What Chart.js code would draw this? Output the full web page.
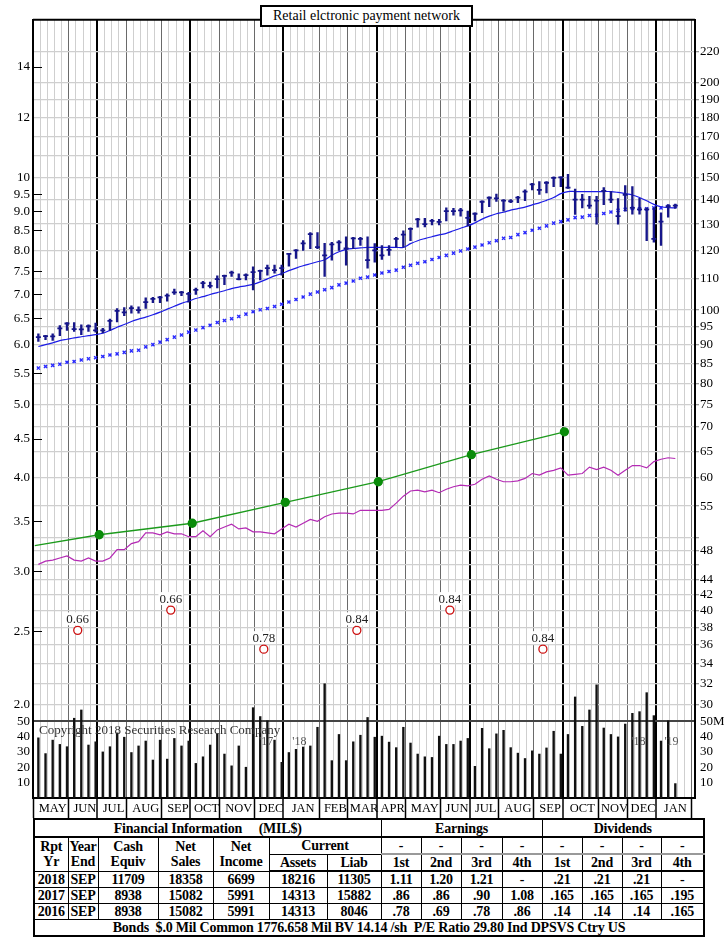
<!DOCTYPE html>
<html>
<head>
<meta charset="utf-8">
<script src="https://cdn.jsdelivr.net/npm/chart.js@4.4.1/dist/chart.umd.min.js"></script>
<style>
  body { margin: 0; background: #fff; }
  #page { position: relative; width: 724px; height: 941px; font-family: "Liberation Serif", serif; }
  #chartBox { position: absolute; left: 0; top: 0; width: 724px; height: 818px; }
  #title { position: absolute; left: 260px; top: 5px; width: 209px; height: 18px; border: 2px solid #000; background: #fff;
           font-size: 14px; line-height: 18px; text-align: center; color: #000; }
  #fin { position: absolute; left: 33px; top: 818px; width: 670px; border-collapse: collapse; table-layout: fixed;
         font: bold 14px "Liberation Serif", serif; border: 2px solid #000; color: #000; }
  #fin td { border: 1px solid #000; text-align: center; padding: 0; height: 15px; line-height: 15px; white-space: nowrap; letter-spacing: -0.2px; }
  #fin tr.top td { height: 16px; border-bottom: 2px solid #000; }
  #fin td.dash { border-bottom: 2px solid #999; }
  #fin tr.sub td { border-bottom: 2px solid #000; }
</style>
</head>
<body>
<div id="page">
  <div id="chartBox"><canvas id="myChart"></canvas></div>
  <div id="title">Retail elctronic payment network</div>
  <table id="fin">
    <colgroup>
      <col style="width:34px"><col style="width:30px"><col style="width:60px"><col style="width:55px"><col style="width:56px">
      <col style="width:58px"><col style="width:54px"><col style="width:40px"><col style="width:40px"><col style="width:41px">
      <col style="width:40px"><col style="width:40px"><col style="width:40px"><col style="width:39px"><col style="width:43px">
    </colgroup>
    <tr class="top"><td colspan="7">Financial Information &nbsp;&nbsp;&nbsp; (MIL$)</td><td colspan="4">Earnings</td><td colspan="4">Dividends</td></tr>
    <tr><td rowspan="2">Rpt<br>Yr</td><td rowspan="2">Year<br>End</td><td rowspan="2">Cash<br>Equiv</td><td rowspan="2">Net<br>Sales</td><td rowspan="2">Net<br>Income</td>
        <td colspan="2">Current</td>
        <td class="dash">-</td><td class="dash">-</td><td class="dash">-</td><td class="dash">-</td>
        <td class="dash">-</td><td class="dash">-</td><td class="dash">-</td><td class="dash">-</td></tr>
    <tr class="sub"><td>Assets</td><td>Liab</td><td>1st</td><td>2nd</td><td>3rd</td><td>4th</td><td>1st</td><td>2nd</td><td>3rd</td><td>4th</td></tr>
    <tr><td>2018</td><td>SEP</td><td>11709</td><td>18358</td><td>6699</td><td>18216</td><td>11305</td><td>1.11</td><td>1.20</td><td>1.21</td><td>-</td><td>.21</td><td>.21</td><td>.21</td><td>-</td></tr>
    <tr><td>2017</td><td>SEP</td><td>8938</td><td>15082</td><td>5991</td><td>14313</td><td>15882</td><td>.86</td><td>.86</td><td>.90</td><td>1.08</td><td>.165</td><td>.165</td><td>.165</td><td>.195</td></tr>
    <tr><td>2016</td><td>SEP</td><td>8938</td><td>15082</td><td>5991</td><td>14313</td><td>8046</td><td>.78</td><td>.69</td><td>.78</td><td>.86</td><td>.14</td><td>.14</td><td>.14</td><td>.165</td></tr>
    <tr><td colspan="15">Bonds&nbsp; $.0 Mil Common 1776.658 Mil BV 14.14 /sh&nbsp; P/E Ratio 29.80 Ind DPSVS Ctry US</td></tr>
  </table>
</div>
<script>
// weekly data, May 2017 .. Jan 2019
const priceHigh = [
	93.0, 92.6, 93.0, 95.4, 96.3, 96.3, 95.6, 95.6, 96.1, 94.6,
	97.3, 100.5, 100.8, 101.3, 101.0, 103.8, 104.0, 104.3, 105.1, 106.6,
	105.9, 105.6, 107.0, 109.2, 108.9, 111.0, 111.3, 112.7, 111.7, 111.7,
	114.1, 113.0, 114.7, 114.7, 114.7, 118.9, 120.3, 123.6, 126.7, 126.7,
	122.6, 123.0, 123.6, 125.1, 124.9, 124.9, 125.1, 122.5, 121.8, 121.8,
	124.9, 127.4, 128.5, 132.3, 132.3, 131.9, 131.9, 136.6, 136.4, 136.4,
	135.3, 134.6, 139.6, 141.3, 142.5, 140.1, 140.1, 141.5, 144.3, 147.2,
	148.0, 148.0, 150.2, 150.2, 151.3, 144.7, 142.4, 141.5, 141.5, 145.3,
	143.6, 140.5, 146.2, 145.8, 140.7, 136.6, 136.6, 134.6, 138.0, 138.2]
const priceLow = [
	90.9, 91.4, 91.2, 92.5, 94.0, 93.7, 92.8, 93.7, 93.5, 93.3,
	94.0, 96.5, 98.3, 99.1, 99.1, 100.5, 102.3, 102.3, 102.8, 104.9,
	104.5, 102.5, 104.9, 107.0, 107.0, 107.0, 108.1, 110.8, 109.7, 109.7,
	106.4, 109.7, 111.3, 111.9, 111.3, 114.4, 117.1, 120.0, 120.6, 120.6,
	110.8, 116.5, 120.0, 114.7, 120.6, 121.8, 113.7, 115.8, 116.7, 118.2,
	121.2, 121.2, 123.6, 128.8, 128.9, 129.7, 129.7, 131.3, 133.6, 133.2,
	129.3, 131.3, 134.6, 137.1, 139.3, 135.3, 138.8, 138.8, 139.7, 144.3,
	142.3, 143.0, 145.8, 145.8, 145.0, 133.9, 136.6, 136.4, 130.0, 138.0,
	138.8, 130.0, 135.3, 134.0, 134.0, 123.6, 123.0, 121.8, 132.8, 136.4]
const priceClose = [
	92.1, 92.4, 92.3, 94.6, 96.0, 94.4, 94.3, 95.2, 94.0, 94.0,
	96.8, 99.8, 99.3, 100.6, 100.0, 102.5, 103.5, 104.0, 104.5, 105.6,
	105.6, 105.1, 106.4, 108.6, 107.7, 109.9, 111.0, 112.1, 109.9, 111.3,
	112.3, 112.7, 113.7, 113.0, 113.7, 118.7, 120.0, 122.6, 126.1, 121.2,
	118.2, 122.2, 123.0, 120.7, 124.5, 124.3, 116.5, 120.0, 118.2, 120.2,
	124.3, 125.9, 128.1, 131.9, 130.0, 131.3, 130.9, 135.3, 135.3, 135.6,
	132.5, 134.2, 139.2, 140.9, 140.6, 139.7, 139.4, 141.0, 143.6, 146.8,
	144.3, 147.5, 149.7, 149.9, 145.3, 140.1, 140.1, 137.6, 139.7, 143.9,
	140.1, 133.2, 142.2, 136.6, 136.0, 136.0, 124.3, 131.0, 137.3, 137.6]
const avgShort = [
	89.5, 90.0, 90.5, 91.1, 91.5, 91.9, 92.2, 92.5, 92.8, 93.2,
	94.0, 94.9, 95.7, 96.6, 97.3, 97.9, 98.6, 99.4, 100.3, 101.2,
	102.1, 102.8, 103.6, 104.2, 104.9, 105.5, 106.1, 106.8, 107.3, 107.7,
	108.2, 109.0, 110.0, 111.0, 111.8, 112.8, 113.7, 114.5, 115.2, 115.9,
	116.6, 118.2, 119.5, 120.4, 120.7, 120.9, 121.1, 121.1, 121.1, 121.1,
	121.1, 121.1, 122.5, 123.6, 124.4, 125.1, 125.8, 126.4, 127.4, 128.4,
	129.3, 130.5, 132.0, 133.2, 134.2, 134.8, 135.7, 136.3, 136.9, 137.9,
	138.7, 139.8, 141.0, 142.7, 143.6, 143.6, 143.6, 143.6, 143.6, 143.6,
	143.6, 143.2, 142.7, 142.1, 141.0, 139.6, 138.1, 137.1, 136.7, 136.6]
const avgLong = [
	83.8, 84.2, 84.5, 84.8, 85.3, 85.5, 85.9, 86.2, 86.5, 86.8,
	87.2, 87.5, 87.9, 88.3, 88.5, 89.4, 90.0, 90.7, 91.4, 92.1,
	92.7, 93.5, 94.1, 94.8, 95.5, 96.3, 96.9, 97.4, 98.1, 98.8,
	99.5, 100.1, 100.5, 101.1, 101.8, 102.5, 103.3, 104.1, 105.0, 105.7,
	106.4, 107.1, 108.0, 108.6, 109.3, 110.2, 110.6, 111.3, 112.0, 112.5,
	113.0, 114.0, 114.7, 115.4, 115.9, 116.7, 117.4, 118.2, 119.0, 119.8,
	120.5, 121.2, 122.0, 122.8, 123.6, 124.5, 124.8, 125.9, 126.7, 127.6,
	128.4, 129.3, 130.4, 131.0, 131.7, 132.6, 132.8, 133.5, 133.6, 134.3,
	134.9, 135.6, 136.0, 136.4, 136.2, 136.2, 136.6, 136.6, 137.3, 137.3]
const relStrength = [
	3.07, 3.10, 3.11, 3.13, 3.15, 3.11, 3.10, 3.13, 3.10, 3.10,
	3.13, 3.21, 3.21, 3.27, 3.29, 3.38, 3.38, 3.36, 3.39, 3.37,
	3.37, 3.34, 3.34, 3.40, 3.34, 3.41, 3.44, 3.47, 3.42, 3.43,
	3.39, 3.39, 3.38, 3.37, 3.42, 3.47, 3.44, 3.48, 3.52, 3.50,
	3.55, 3.58, 3.59, 3.59, 3.58, 3.62, 3.62, 3.62, 3.62, 3.63,
	3.70, 3.78, 3.84, 3.85, 3.83, 3.85, 3.82, 3.86, 3.89, 3.91,
	3.90, 3.92, 3.98, 4.02, 3.98, 3.95, 3.95, 3.96, 3.99, 4.05,
	4.03, 4.07, 4.09, 4.12, 4.03, 4.04, 4.05, 4.13, 4.10, 4.13,
	4.09, 4.03, 4.09, 4.15, 4.15, 4.12, 4.20, 4.23, 4.25, 4.24]
const volume = [
	39.3, 29.0, 37.8, 35.0, 33.5, 52.1, 57.5, 34.6, 36.7, 30.1,
	33.5, 42.5, 39.7, 29.7, 34.0, 37.2, 24.8, 37.8, 25.4, 38.9,
	34.0, 37.2, 22.6, 26.9, 34.6, 41.9, 28.7, 21.0, 34.0, 20.1,
	59.0, 53.2, 50.4, 37.8, 23.3, 29.7, 31.8, 33.3, 34.0, 46.2,
	74.6, 24.4, 41.5, 24.4, 36.7, 41.0, 52.6, 39.7, 40.4, 36.5,
	32.9, 46.2, 35.9, 28.7, 26.9, 26.5, 40.4, 35.0, 35.0, 37.2,
	38.9, 20.7, 45.5, 32.2, 41.9, 44.2, 32.9, 29.3, 25.8, 30.8,
	28.7, 32.7, 43.6, 28.7, 41.5, 66.0, 46.8, 57.5, 73.9, 45.7,
	41.5, 39.9, 48.3, 55.3, 56.4, 68.8, 53.8, 37.2, 50.4, 9.4]

// quarterly earnings line (week index, value) and dividends
const earnWeek = [0, 9, 22, 35, 48, 61, 74]
const earnValue = [3.25, 3.36, 3.48, 3.71, 3.95, 4.29, 4.60]
const divWeek = [6, 19, 32, 45, 58, 71]
const divAmount = [0.66, 0.66, 0.78, 0.84, 0.84, 0.84]
const divLevel = [2.51, 2.67, 2.37, 2.51, 2.67, 2.37]

const monthNames = ['MAY','JUN','JUL','AUG','SEP','OCT','NOV','DEC','JAN','FEB','MAR','APR','MAY','JUN','JUL','AUG','SEP','OCT','NOV','DEC','JAN']
const monthWeeks = [5, 4, 4, 5, 4, 4, 5, 4, 5, 4, 4, 4, 5, 4, 4, 5, 4, 5, 4, 4, 5]

const leftTicks = [14, 12, 10, 9.5, 9, 8.5, 8, 7.5, 7, 6.5, 6, 5.5, 5, 4.5, 4, 3.5, 3, 2.5, 2]
const leftTickText = ['14','12','10','9.5','9.0','8.5','8.0','7.5','7.0','6.5','6.0','5.5','5.0','4.5','4.0','3.5','3.0','2.5','2.0']
const rightTicks = [220, 200, 190, 180, 170, 160, 150, 140, 130, 120, 110, 100, 95, 90, 85, 80, 75, 70, 65, 60, 55, 50, 48, 46, 44, 42, 40, 38, 36, 34, 32, 30]
const rightHidden = [50, 46]
const volTicks = [10, 20, 30, 40, 50]

const monthEdges = [0]
monthWeeks.forEach(n => monthEdges.push(monthEdges[monthEdges.length - 1] + n))
const quarterEdges = monthEdges.filter((e, i) => ['JUL', 'OCT', 'JAN', 'APR'].includes(monthNames[i]))
const monthMid = monthNames.map((m, i) => (monthEdges[i] + monthEdges[i + 1]) / 2)
const lastWeek = monthEdges[monthEdges.length - 1]

const weekX = priceHigh.map((v, i) => i + 0.5)
const pts = arr => arr.map((v, i) => ({x: weekX[i], y: v}))
const tickVal = c => (c && c.tick ? c.tick.value : NaN)

const NAVY = '#16168a'
const CLEAR = 'rgba(0,0,0,0)'
const font = size => ({family: '"Liberation Serif", "Times New Roman", serif', size: size})

// frame on top, dividend labels, copyright and year marks
const extras = {
	id: 'extras',
	afterDatasetsDraw(chart) {
		const {ctx, chartArea: a, scales} = chart
		ctx.save()
		ctx.font = '13px "Liberation Serif", serif'
		ctx.textAlign = 'center'
		ctx.textBaseline = 'middle'
		chart.getDatasetMeta(6).data.forEach((p, i) => {
			const t = divAmount[i].toFixed(2)
			const w = ctx.measureText(t).width
			ctx.fillStyle = '#fff'
			ctx.fillRect(p.x - w / 2 - 1, p.y - 18, w + 2, 13)
			ctx.fillStyle = '#222'
			ctx.fillText(t, p.x, p.y - 11)
		})
		ctx.textAlign = 'left'
		ctx.fillStyle = '#333'
		ctx.fillText('Copyright 2018 Securities Research Company', a.left + 6, 731)
		ctx.font = '12px "Liberation Serif", serif'
		ctx.fillStyle = '#555'
		const yy = scales.yv.getPixelForValue(37)
		const jan = monthEdges.filter((e, i) => monthNames[i] === 'JAN')
		const years = ["'17", "'18", "'19"]
		jan.forEach((e, k) => {
			const px = scales.x.getPixelForValue(e)
			ctx.textAlign = 'right'
			ctx.fillText(years[k], px - 12, yy)
			ctx.textAlign = 'left'
			ctx.fillText(years[k + 1], px + 7, yy)
		})
		ctx.strokeStyle = '#000'
		ctx.lineWidth = 2
		ctx.beginPath()
		ctx.moveTo(a.left, a.top)
		ctx.lineTo(a.right, a.top)
		ctx.stroke()
		ctx.restore()
	}
}

const ctx = document.getElementById('myChart')
var chart = new Chart(ctx, {
	type: 'line',
	data: {
		datasets: [{
			label: 'Close',
			data: pts(priceClose),
			yAxisID: 'yr',
			showLine: false,
			pointStyle: 'line',
			pointRadius: 2.5,
			pointBorderWidth: 1.8,
			borderColor: NAVY,
			backgroundColor: NAVY
		}, {
			type: 'bar',
			label: 'Range',
			data: weekX.map((x, i) => ({x: x, y: [priceLow[i], priceHigh[i]]})),
			yAxisID: 'yr',
			backgroundColor: NAVY,
			borderWidth: 0,
			barThickness: 1.7,
			grouped: false
		}, {
			label: 'Short average',
			data: pts(avgShort),
			yAxisID: 'yr',
			borderColor: '#1c1ce6',
			borderWidth: 1.2,
			pointRadius: 0,
			tension: 0.3
		}, {
			label: 'Long average',
			data: pts(avgLong),
			yAxisID: 'yr',
			showLine: false,
			pointStyle: 'crossRot',
			pointRadius: 2.2,
			pointBorderWidth: 1.4,
			borderColor: '#2a2aff',
			backgroundColor: '#2a2aff'
		}, {
			label: 'Earnings',
			data: earnWeek.map((w, i) => ({x: w, y: earnValue[i]})),
			yAxisID: 'yl',
			borderColor: '#1c9a1c',
			borderWidth: 1.3,
			pointRadius: earnWeek.map(w => (w === 0 ? 0 : 4)),
			pointBackgroundColor: '#0a8c0a',
			pointBorderColor: '#0a8c0a'
		}, {
			label: 'Relative strength',
			data: pts(relStrength),
			yAxisID: 'yl',
			borderColor: '#b42ab4',
			borderWidth: 1.2,
			pointRadius: 0
		}, {
			label: 'Dividends',
			data: divWeek.map((w, i) => ({x: w, y: divLevel[i]})),
			yAxisID: 'yl',
			showLine: false,
			pointStyle: 'circle',
			pointRadius: 4,
			pointBorderWidth: 1.3,
			borderColor: '#cc1111',
			backgroundColor: '#fff'
		}, {
			type: 'bar',
			label: 'Volume',
			data: pts(volume),
			yAxisID: 'yv',
			backgroundColor: '#111',
			borderWidth: 0,
			barThickness: 1.7,
			grouped: false,
			clip: false
		}]
	},
	options: {
		responsive: true,
		maintainAspectRatio: false,
		animation: false,
		layout: {padding: {top: 5}},
		plugins: {legend: {display: false}, tooltip: {enabled: false}},
		scales: {
			x: {
				type: 'linear',
				position: 'bottom',
				min: 0,
				max: lastWeek,
				afterBuildTicks: s => {
					const t = []
					for (let v = 0; v <= lastWeek; v += 0.5) t.push({value: v})
					s.ticks = t
				},
				afterFit: s => { s.height = 20 },
				ticks: {
					autoSkip: false,
					maxRotation: 0,
					minRotation: 0,
					padding: -17,
					color: '#000',
					font: font(12.5),
					callback: v => {
						const k = monthMid.indexOf(v)
						return k < 0 ? '' : monthNames[k]
					}
				},
				grid: {
					color: c => {
						const v = tickVal(c)
						if (isNaN(v) || v % 1 !== 0) return CLEAR
						if (quarterEdges.includes(v)) return '#000'
						if (monthEdges.includes(v)) return '#6a6a6a'
						return '#cfcfcf'
					},
					lineWidth: c => (quarterEdges.includes(tickVal(c)) ? 2 : 1),
					tickLength: 20,
					tickColor: c => (monthEdges.includes(tickVal(c)) ? '#000' : CLEAR),
					tickWidth: 1.5
				},
				border: {color: '#000', width: 2}
			},
			yv: {
				type: 'linear',
				position: 'left',
				stack: 'L',
				stackWeight: 78,
				min: 0,
				max: 50,
				afterBuildTicks: s => { s.ticks = volTicks.map(v => ({value: v})) },
				afterFit: s => { s.width = 33 },
				ticks: {autoSkip: false, color: '#000', font: font(13), padding: 12},
				grid: {
					color: c => (tickVal(c) === 50 ? '#444' : CLEAR),
					lineWidth: 2,
					tickLength: -9,
					tickColor: CLEAR
				},
				border: {color: '#000', width: 2}
			},
			yl: {
				type: 'logarithmic',
				position: 'left',
				stack: 'L',
				stackWeight: 715,
				min: 1.9008,
				max: 16.17,
				afterBuildTicks: s => { s.ticks = leftTicks.map(v => ({value: v})) },
				afterFit: s => { s.width = 33 },
				ticks: {
					autoSkip: false,
					color: '#000',
					font: font(13),
					padding: 12,
					callback: v => leftTickText[leftTicks.indexOf(v)]
				},
				grid: {drawOnChartArea: false, tickLength: -9, tickColor: '#000', tickWidth: 1},
				border: {color: '#000', width: 2}
			},
			yr: {
				type: 'logarithmic',
				position: 'right',
				stack: 'R',
				stackWeight: 715,
				min: 28.51,
				max: 242.5,
				afterBuildTicks: s => { s.ticks = rightTicks.map(v => ({value: v})) },
				afterFit: s => { s.width = 29 },
				ticks: {
					autoSkip: false,
					color: '#000',
					font: font(13),
					padding: 1,
					callback: v => (rightHidden.includes(v) ? '' : String(v))
				},
				grid: {color: '#cfcfcf', lineWidth: 1.3, tickLength: 4, tickColor: '#999'},
				border: {color: '#000', width: 2}
			},
			yv2: {
				type: 'linear',
				position: 'right',
				stack: 'R',
				stackWeight: 78,
				min: 0,
				max: 50,
				afterBuildTicks: s => { s.ticks = volTicks.map(v => ({value: v})) },
				afterFit: s => { s.width = 29 },
				ticks: {
					autoSkip: false,
					color: '#000',
					font: font(13),
					padding: 1,
					callback: v => (v === 50 ? '50M' : String(v))
				},
				grid: {drawOnChartArea: false, tickLength: 4, tickColor: CLEAR},
				border: {color: '#000', width: 2}
			}
		}
	},
	plugins: [extras]
})
</script>
</body>
</html>
